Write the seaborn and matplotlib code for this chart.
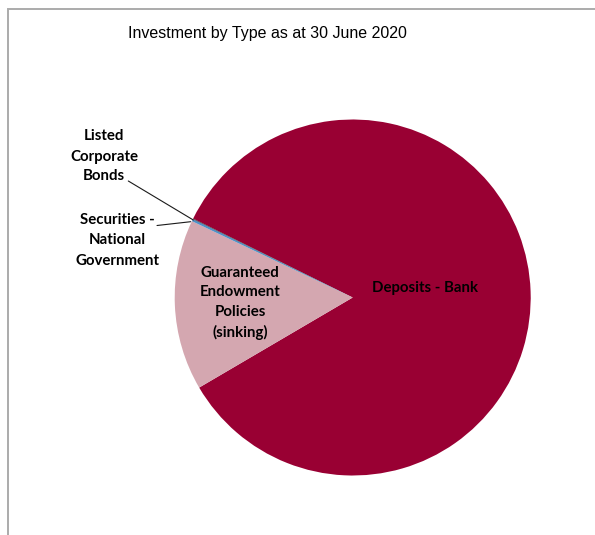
import matplotlib
matplotlib.use("Agg")
import matplotlib.pyplot as plt
import seaborn as sns
from matplotlib.patches import Rectangle

# Investment portfolio split (% of total) at 30 June 2020
categories = [
    "Deposits - Bank",
    "Guaranteed Endowment Policies (sinking)",
    "Securities - National Government",
    "Listed Corporate Bonds",
]
shares = [84.25, 15.5, 0.2, 0.05]
slice_colors = ["#990033", "#D4A7B0", "#4F8FC6", "#262626"]
title = "Investment by Type as at 30 June 2020"

sns.set_theme(style="white")
plt.rcParams["font.family"] = ["Lato", "DejaVu Sans"]

W, H = 595, 535
fig = plt.figure(figsize=(W / 100, H / 100), dpi=100)
ax = fig.add_axes([0, 0, 1, 1])

cx, cy, r = 352.7, H - 297.5, 178
wedges, _ = ax.pie(
    shares,
    colors=sns.color_palette(slice_colors),
    startangle=153.7,
    counterclock=False,
    center=(cx, cy),
    radius=r,
    wedgeprops=dict(linewidth=0, antialiased=True),
)
ax.set_xlim(0, W)
ax.set_ylim(0, H)
ax.set_aspect("equal")
ax.axis("off")

# chart-area frame
frame = Rectangle((7.5, -20), W + 20, H - 9 + 20, fill=False,
                  edgecolor="#ABABAB", linewidth=1.4, transform=ax.transData,
                  clip_on=False)
ax.add_patch(frame)

font_kw = dict(fontsize=10.8, fontweight="bold", color="#000000",
               ha="center", va="center")


def block(x, ys, lines):
    for y, line in zip(ys, lines):
        ax.text(x, H - y, line, **font_kw)


block(425, [288], ["Deposits - Bank"])
block(240, [273, 292.5, 312.5, 332],
      ["Guaranteed", "Endowment", "Policies", "(sinking)"])
block(104, [136.5, 156.5, 176], ["Listed", "Corporate", "Bonds"])
block(117, [220, 240.5, 261], ["Securities -", "National", "Government"])

# leader lines for the thin slices
ax.plot([128.3, 193.3], [H - 181, H - 220], color="#1a1a1a", lw=0.8)
ax.plot([157, 190.7], [H - 225.5, H - 221.7], color="#1a1a1a", lw=0.8)

ax.text(267, H - 33.5, title, fontsize=11.5, color="#000000",
        ha="center", va="center",
        family=["Liberation Sans", "DejaVu Sans"])

fig.savefig("out.png", dpi=100)
